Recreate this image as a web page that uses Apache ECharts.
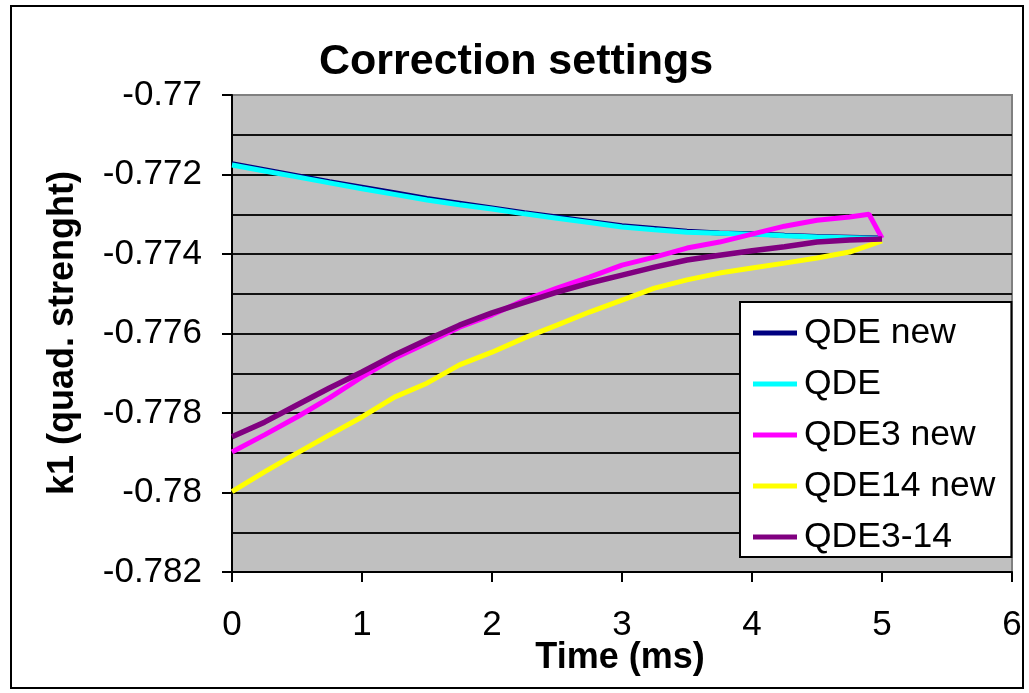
<!DOCTYPE html>
<html>
<head>
<meta charset="utf-8">
<title>Correction settings</title>
<script src="https://cdn.jsdelivr.net/npm/echarts@6/dist/echarts.min.js"></script>
<style>
  html, body { margin: 0; padding: 0; background: #ffffff; }
  #chart { width: 1029px; height: 693px; }
</style>
</head>
<body>
<div id="chart"></div>
<script>
// Time axis (ms) sampled every 0.25 ms
const times = [0, 0.25, 0.5, 0.75, 1, 1.25, 1.5, 1.75, 2, 2.25, 2.5, 2.75, 3, 3.25, 3.5, 3.75, 4, 4.25, 4.5, 4.75, 5];
// QDE3 new has one extra sample just before the end of the ramp
const timesQDE3 = [0, 0.25, 0.5, 0.75, 1, 1.25, 1.5, 1.75, 2, 2.25, 2.5, 2.75, 3, 3.25, 3.5, 3.75, 4, 4.25, 4.5, 4.75, 4.9, 5];

// k1 quadrupole strengths
const qdeNew = [-0.77173, -0.77188, -0.77203, -0.77218, -0.77232, -0.77246, -0.7726, -0.77272, -0.77284, -0.77296, -0.77307,
  -0.77318, -0.77329, -0.77336, -0.77343, -0.77347, -0.77349, -0.77353, -0.77356, -0.77358, -0.7736];
const qde = [-0.77176, -0.77191, -0.77206, -0.77221, -0.77236, -0.7725, -0.77264, -0.77276, -0.77287, -0.77299, -0.7731,
  -0.77321, -0.77332, -0.77339, -0.77345, -0.77348, -0.7735, -0.77354, -0.77357, -0.77359, -0.77361];
const qde3New = [-0.77898, -0.77855, -0.7781, -0.77762, -0.77709, -0.77662, -0.77624, -0.77584, -0.77553, -0.77516, -0.77486,
  -0.77458, -0.77428, -0.77408, -0.77385, -0.7737, -0.7735, -0.7733, -0.77315, -0.77307, -0.773, -0.7736];
const qde14New = [-0.77998, -0.77948, -0.77901, -0.77855, -0.7781, -0.7776, -0.77725, -0.77679, -0.77647, -0.77611, -0.77579,
  -0.77546, -0.77516, -0.77486, -0.77465, -0.77448, -0.77435, -0.77423, -0.7741, -0.77395, -0.77367];
const qde3to14 = [-0.7786, -0.77823, -0.7778, -0.77737, -0.77697, -0.77654, -0.77616, -0.77579, -0.77548, -0.77522, -0.77496,
  -0.77473, -0.77453, -0.77433, -0.77415, -0.77403, -0.77392, -0.77382, -0.7737, -0.77365, -0.77362];

const seriesNames = ['QDE new', 'QDE', 'QDE3 new', 'QDE14 new', 'QDE3-14'];
const seriesColors = ['#000080', '#00FFFF', '#FF00FF', '#FFFF00', '#800080'];

const FONT = "'Liberation Sans', Arial, Helvetica, sans-serif";

function pairs(xs, ys) {
  return xs.map((x, i) => [x, ys[i]]);
}

const seriesData = [
  pairs(times, qdeNew),
  pairs(times, qde),
  pairs(timesQDE3, qde3New),
  pairs(times, qde14New),
  pairs(times, qde3to14)
];

const chart = echarts.init(document.getElementById('chart'), null, { renderer: 'canvas' });

chart.setOption({
  animation: false,
  backgroundColor: '#ffffff',
  title: {
    text: 'Correction settings',
    left: 319,
    top: 41,
    padding: 0,
    textStyle: { fontFamily: FONT, fontSize: 43, fontWeight: 'bold', color: '#000' }
  },
  legend: {
    orient: 'vertical',
    left: 740,
    top: 302,
    padding: [13, 16, 2, 13],
    backgroundColor: '#ffffff',
    borderColor: '#000000',
    borderWidth: 2,
    borderRadius: 0,
    itemWidth: 44,
    itemHeight: 5,
    itemGap: 15,
    icon: 'rect',
    data: seriesNames,
    textStyle: { fontFamily: FONT, fontSize: 35.5, lineHeight: 36, color: '#000', padding: [0, 0, 0, 2] }
  },
  grid: {
    left: 232,
    right: 17,
    top: 95,
    bottom: 121,
    show: true,
    backgroundColor: '#C0C0C0',
    borderColor: '#808080',
    borderWidth: 2
  },
  xAxis: {
    type: 'value',
    min: 0,
    max: 6,
    interval: 1,
    axisLine: { show: true, onZero: false, lineStyle: { color: '#000', width: 2 } },
    axisTick: { show: true, inside: false, length: 10, lineStyle: { color: '#000', width: 2 } },
    splitLine: { show: false },
    axisLabel: { fontFamily: FONT, fontSize: 35, color: '#000', margin: 36 }
  },
  yAxis: {
    type: 'value',
    min: -0.782,
    max: -0.77,
    interval: 0.002,
    axisLine: { show: true, onZero: false, lineStyle: { color: '#000', width: 2 } },
    axisTick: { show: true, inside: false, length: 10, lineStyle: { color: '#000', width: 2 } },
    minorTick: { show: false, splitNumber: 2 },
    splitLine: { show: true, showMaxLine: false, lineStyle: { color: '#111', width: 2 } },
    minorSplitLine: { show: true, lineStyle: { color: '#111', width: 2 } },
    axisLabel: {
      fontFamily: FONT, fontSize: 35, color: '#000', margin: 30,
      formatter: v => String(Number(v.toFixed(3)))
    }
  },
  graphic: [
    {
      type: 'rect',
      shape: { x: 11, y: 6, width: 1012, height: 682 },
      style: { fill: 'none', stroke: '#000', lineWidth: 2 },
      silent: true,
      z: 100
    },
    {
      type: 'text',
      x: 63,
      y: 333,
      rotation: Math.PI / 2,
      style: {
        text: 'k1 (quad. strenght)',
        fontFamily: FONT, fontSize: 36, fontWeight: 'bold', fill: '#000',
        textAlign: 'center', textVerticalAlign: 'middle'
      }
    },
    {
      type: 'text',
      x: 620,
      y: 658,
      style: {
        text: 'Time (ms)',
        fontFamily: FONT, fontSize: 36, fontWeight: 'bold', fill: '#000',
        textAlign: 'center', textVerticalAlign: 'middle'
      }
    }
  ],
  series: seriesNames.map((name, i) => ({
    name: name,
    type: 'line',
    data: seriesData[i],
    showSymbol: false,
    symbol: 'none',
    smooth: false,
    color: seriesColors[i],
    lineStyle: { color: seriesColors[i], width: i === 4 ? 5.5 : 5 },
    z: 2 + i
  }))
});
</script>
</body>
</html>
